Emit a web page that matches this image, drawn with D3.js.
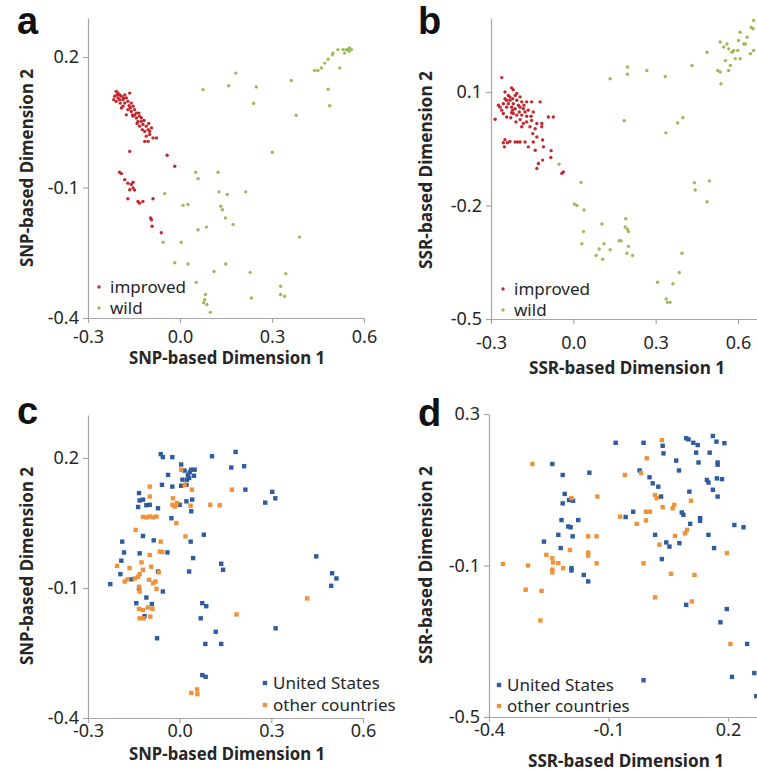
<!DOCTYPE html>
<html>
<head>
<meta charset="utf-8">
<script src="https://cdn.jsdelivr.net/npm/d3@7"></script>
<style>
  body { margin: 0; background: #fff; }
  svg { display: block; }
</style>
</head>
<body>
<div id="chart"></div>
<script>
// ---- data ----
// panel a: SNP-based MDS, improved vs wild
const snpImproved = [
  [-0.208,0.121],[-0.202,0.117],[-0.213,0.110],[-0.197,0.113],[-0.191,0.110],[-0.186,0.102],[-0.175,0.106],
  [-0.164,0.117],[-0.170,0.098],[-0.180,0.094],[-0.197,0.102],[-0.159,0.094],[-0.153,0.087],[-0.148,0.079],
  [-0.142,0.071],[-0.159,0.075],[-0.170,0.079],[-0.186,0.087],[-0.142,0.060],[-0.132,0.064],[-0.137,0.052],
  [-0.126,0.052],[-0.121,0.045],[-0.110,0.041],[-0.104,0.033],[-0.099,0.029],[-0.093,0.037],[-0.115,0.029],
  [-0.110,0.018],[-0.104,0.006],[-0.115,0.006],[-0.077,0.014],[-0.088,0.014],[-0.132,0.041],[-0.153,0.064],
  [-0.175,0.067],[-0.191,0.083],[-0.208,0.098],[-0.216,0.102],[-0.202,0.106],[-0.180,0.113],[-0.155,0.067],
  [-0.140,0.047],[-0.123,0.033],[-0.099,0.022],[-0.205,0.113],[-0.195,0.094],[-0.184,0.106],[-0.166,0.088],
  [-0.162,0.083],[-0.148,0.067],[-0.134,0.071],[-0.126,0.060],[-0.117,0.054],[-0.102,0.047],
  [-0.164,-0.017],[-0.042,-0.026],[-0.017,-0.051],[-0.197,-0.065],[-0.191,-0.068],[-0.180,-0.082],
  [-0.170,-0.090],[-0.159,-0.093],[-0.153,-0.088],[-0.153,-0.101],[-0.164,-0.105],[-0.148,-0.106],
  [-0.170,-0.126],[-0.137,-0.132],[-0.132,-0.136],[-0.121,-0.132],[-0.088,-0.126],[-0.096,-0.170],
  [-0.093,-0.174],[-0.091,-0.189],[-0.061,-0.204]
];
const snpWild = [
  [0.548,0.218],[0.553,0.221],[0.542,0.217],[0.559,0.217],[0.551,0.213],[0.537,0.209],[0.532,0.217],
  [0.515,0.217],[0.499,0.209],[0.497,0.205],[0.483,0.195],[0.472,0.186],[0.461,0.175],[0.450,0.169],
  [0.439,0.169],[0.521,0.175],[0.483,0.126],[0.488,0.088],[0.363,0.146],[0.379,0.066],[0.182,0.163],
  [0.159,0.134],[0.249,0.131],[0.240,0.093],[0.075,0.125],[0.301,-0.019],[0.051,-0.065],[0.059,-0.080],
  [0.124,-0.065],[-0.050,-0.114],[0.010,-0.141],[0.026,-0.139],[0.127,-0.110],[0.154,-0.116],[0.133,-0.143],
  [0.138,-0.151],[0.214,-0.110],[0.148,-0.170],[0.173,-0.185],[0.059,-0.197],[0.086,-0.191],[-0.055,-0.226],
  [0.004,-0.226],[0.390,-0.214],[-0.017,-0.273],[0.026,-0.276],[0.149,-0.276],[0.111,-0.293],[0.229,-0.295],
  [0.345,-0.298],[0.053,-0.318],[0.328,-0.327],[0.328,-0.346],[0.341,-0.350],[0.083,-0.346],[0.080,-0.358],
  [0.088,-0.369],[0.099,-0.387],[0.233,-0.354],[0.077,-0.365]
];
// panel b: SSR-based MDS, improved vs wild
const ssrImproved = [
  [-0.261,0.138],[-0.225,0.111],[-0.219,0.106],[-0.206,0.096],[-0.237,0.091],[-0.249,0.082],[-0.231,0.078],
  [-0.206,0.078],[-0.188,0.074],[-0.170,0.074],[-0.152,0.074],[-0.121,0.074],[-0.255,0.069],[-0.243,0.060],
  [-0.225,0.060],[-0.212,0.056],[-0.194,0.060],[-0.182,0.056],[-0.164,0.052],[-0.146,0.047],[-0.225,0.045],
  [-0.206,0.039],[-0.188,0.039],[-0.170,0.036],[-0.267,0.060],[-0.261,0.052],[-0.273,0.065],[-0.285,0.028],
  [-0.243,0.034],[-0.194,0.027],[-0.152,0.025],[-0.133,0.017],[-0.115,0.017],[-0.115,0.008],[-0.091,0.034],
  [-0.073,0.034],[-0.139,0.003],[-0.219,0.043],[-0.182,0.017],[-0.158,0.008],[-0.148,-0.010],[-0.133,-0.019],
  [-0.112,-0.027],[-0.146,-0.032],[-0.176,-0.032],[-0.194,-0.032],[-0.249,-0.026],[-0.240,-0.034],
  [-0.231,-0.031],[-0.212,-0.032],[-0.203,-0.032],[-0.255,-0.034],[-0.251,-0.045],[-0.164,-0.045],
  [-0.139,-0.054],[-0.109,-0.045],[-0.081,-0.055],[-0.082,-0.073],[-0.127,-0.089],[-0.112,-0.080],
  [-0.133,-0.102],[-0.036,-0.111],[-0.042,-0.115],[-0.243,0.078],[-0.249,0.100],[-0.231,0.087],
  [-0.219,0.069],[-0.200,0.065],[-0.180,0.065],[-0.197,0.047],[-0.228,0.032],[-0.209,0.021],[-0.170,0.021],
  [-0.154,0.036],[-0.237,0.069],[-0.221,0.082],[-0.194,0.087],[-0.212,0.091],[-0.176,0.047],[-0.221,0.052],
  [-0.255,0.043],[-0.188,0.008]
];
const ssrWild = [
  [0.657,0.289],[0.648,0.271],[0.655,0.267],[0.633,0.245],[0.608,0.258],[0.602,0.236],[0.621,0.227],
  [0.627,0.227],[0.599,0.210],[0.584,0.210],[0.566,0.214],[0.548,0.219],[0.535,0.232],[0.560,0.227],
  [0.578,0.205],[0.590,0.188],[0.608,0.188],[0.645,0.201],[0.657,0.210],[0.554,0.183],[0.572,0.170],
  [0.566,0.157],[0.535,0.153],[0.526,0.157],[0.538,0.122],[0.487,0.205],[0.432,0.170],[0.335,0.141],
  [0.268,0.157],[0.197,0.166],[0.197,0.147],[0.134,0.135],[0.185,0.024],[0.380,0.018],[0.399,0.032],
  [0.337,-0.008],[-0.052,-0.091],[0.028,-0.139],[0.441,-0.140],[0.496,-0.135],[0.444,-0.159],[0.487,-0.190],
  [0.004,-0.196],[0.013,-0.200],[0.039,-0.212],[0.104,-0.249],[0.037,-0.269],[0.191,-0.235],[0.189,-0.257],
  [0.197,-0.263],[0.201,-0.269],[0.031,-0.301],[0.167,-0.293],[0.174,-0.293],[0.201,-0.308],[0.195,-0.326],
  [0.216,-0.332],[0.112,-0.301],[0.094,-0.315],[0.107,-0.342],[0.083,-0.332],[0.134,-0.317],[0.396,-0.326],
  [0.386,-0.377],[0.363,-0.407],[0.307,-0.403],[0.338,-0.447],[0.343,-0.456],[0.353,-0.456]
];
// panel c: SNP-based MDS, United States vs other countries
const snpUS = [
  [-0.062,0.209],[-0.055,0.202],[-0.024,0.202],[0.005,0.185],[0.016,0.171],[0.027,0.161],[0.038,0.173],
  [0.049,0.173],[0.047,0.159],[0.024,0.150],[0.031,0.154],[-0.038,0.161],[-0.024,0.134],[-0.058,0.138],
  [0.005,0.136],[0.022,0.138],[0.106,0.204],[0.183,0.214],[0.169,0.178],[0.211,0.181],[0.215,0.127],
  [0.280,0.097],[0.303,0.122],[0.313,0.107],[-0.133,0.119],[-0.131,0.102],[-0.120,0.104],[-0.136,0.087],
  [-0.109,0.091],[-0.098,0.092],[-0.071,0.084],[-0.027,0.061],[0.000,0.092],[0.022,0.100],[0.041,0.104],
  [0.038,0.077],[0.079,0.023],[-0.120,0.020],[-0.188,0.007],[-0.182,-0.018],[-0.131,-0.020],[-0.085,0.010],
  [-0.040,-0.018],[0.036,0.007],[0.044,-0.031],[0.031,-0.062],[0.136,-0.044],[0.142,-0.058],[-0.191,-0.037],
  [-0.194,-0.068],[-0.158,-0.080],[-0.133,-0.101],[-0.109,-0.122],[-0.091,-0.137],[-0.115,-0.165],
  [-0.142,-0.135],[-0.055,-0.108],[-0.071,-0.062],[0.074,-0.135],[0.087,-0.142],[0.069,-0.170],
  [0.118,-0.201],[0.136,-0.229],[0.084,-0.229],[-0.074,-0.216],[0.074,-0.301],[0.085,-0.305],
  [0.447,-0.027],[0.499,-0.066],[0.513,-0.078],[0.496,-0.095],[0.314,-0.193],[-0.227,-0.091],
  [0.033,0.167],[0.009,0.150]
];
const snpOther = [
  [0.005,0.173],[0.016,0.138],[0.040,0.127],[-0.098,0.134],[-0.098,0.111],[-0.022,0.107],[-0.024,0.092],
  [-0.016,0.088],[-0.009,0.096],[0.036,0.090],[0.100,0.092],[0.131,0.091],[0.171,0.127],[-0.120,0.064],
  [-0.109,0.063],[-0.098,0.065],[-0.087,0.063],[-0.076,0.065],[-0.144,0.034],[-0.011,0.050],[0.019,0.019],
  [-0.062,0.007],[-0.098,-0.024],[-0.065,-0.016],[-0.057,-0.017],[-0.205,-0.049],[-0.164,-0.054],
  [-0.125,-0.041],[-0.120,-0.058],[-0.093,-0.051],[-0.068,-0.064],[-0.180,-0.085],[-0.147,-0.078],
  [-0.136,-0.074],[-0.131,-0.068],[-0.100,-0.081],[-0.079,-0.085],[-0.171,-0.080],[-0.076,-0.102],
  [-0.131,-0.108],[-0.133,-0.148],[-0.120,-0.151],[-0.104,-0.145],[-0.089,-0.148],[-0.131,-0.170],
  [-0.118,-0.170],[-0.096,-0.166],[0.186,-0.161],[0.417,-0.124],[0.038,-0.342],[0.057,-0.334],
  [0.058,-0.345],[-0.133,-0.097],[-0.087,-0.089]
];
// panel d: SSR-based MDS, United States vs other countries
const ssrUS = [
  [-0.082,0.224],[-0.012,0.224],[0.036,0.216],[0.038,0.196],[0.095,0.236],[0.101,0.233],[0.113,0.224],
  [0.124,0.218],[0.120,0.198],[0.162,0.242],[0.171,0.227],[0.191,0.223],[0.154,0.198],[0.126,0.172],
  [0.174,0.172],[0.174,0.166],[0.070,0.177],[0.077,0.151],[-0.022,0.151],[0.003,0.133],[0.011,0.117],
  [0.025,0.108],[0.147,0.126],[0.151,0.119],[0.172,0.130],[0.185,0.128],[0.162,0.100],[0.174,0.082],
  [0.103,0.095],[0.032,0.082],[0.084,0.040],[0.088,0.034],[0.105,0.010],[0.130,0.025],[0.130,0.018],
  [0.151,-0.019],[0.165,-0.054],[0.216,0.007],[0.239,0.001],[-0.241,0.168],[-0.215,0.139],[-0.148,0.145],
  [-0.210,0.089],[-0.199,0.073],[-0.189,0.071],[-0.215,0.064],[-0.176,0.020],[-0.218,0.020],[-0.201,0.003],
  [-0.195,0.001],[-0.226,-0.019],[-0.190,-0.023],[-0.262,-0.037],[-0.220,-0.054],[-0.193,-0.107],
  [-0.193,-0.113],[-0.162,-0.125],[-0.151,-0.142],[-0.057,0.028],[-0.038,0.042],[0.017,-0.019],
  [0.045,-0.039],[0.053,-0.050],[0.034,-0.083],[0.078,-0.041],[0.095,-0.204],[0.197,-0.215],[0.181,-0.250],
  [0.248,-0.307],[0.210,-0.394],[0.266,-0.384],[-0.012,-0.403],[0.271,-0.445]
];
const ssrOther = [
  [-0.291,0.168],[-0.059,0.139],[-0.018,0.144],[-0.004,0.183],[0.034,0.231],[-0.128,0.082],[0.017,0.086],
  [0.021,0.078],[0.107,0.071],[0.065,0.060],[0.036,0.054],[0.061,0.051],[-0.071,0.029],[-0.029,0.010],
  [-0.006,0.042],[0.004,0.042],[-0.006,0.019],[0.028,-0.045],[0.067,-0.022],[0.097,-0.006],[0.092,-0.015],
  [-0.151,-0.023],[-0.197,-0.059],[-0.130,-0.094],[-0.151,-0.066],[-0.151,-0.074],[-0.256,-0.072],
  [-0.241,-0.081],[-0.239,-0.092],[-0.226,-0.094],[-0.214,-0.107],[-0.241,-0.111],[-0.241,-0.118],
  [-0.365,-0.096],[-0.302,-0.100],[-0.012,-0.094],[0.057,-0.122],[0.116,-0.125],[0.197,-0.067],
  [-0.308,-0.164],[-0.268,-0.167],[-0.271,-0.245],[0.017,-0.184],[0.109,-0.195],[0.206,-0.307],
  [-0.193,0.078],[-0.130,-0.023]
];

const xTicksSNP = [-0.3, 0.0, 0.3, 0.6];
const yTicksA = [-0.4, -0.1, 0.2];
const yTicksB = [-0.5, -0.2, 0.1];
const xTicksD = [-0.4, -0.1, 0.2];
const yTicksD = [-0.5, -0.1, 0.3];

const colors = { improved: "#c3282f", wild: "#9bbb59", us: "#2f5c9e", other: "#f0923a" };

const W = 757, H = 771;
const svg = d3.select("#chart").append("svg").attr("width", W).attr("height", H);

// panels: scales set from where the ticks sit in the figure
const panels = [
  { letter: "a", lx: 17, ly: 34,
    x: d3.scaleLinear().domain([-0.3, 0.6]).range([88, 364]), xEnd: 364,
    y: d3.scaleLinear().domain([-0.4, 0.2]).range([318, 57]), yTop: 18,
    xt: xTicksSNP, yt: yTicksA, xPad: 7,
    xTitle: "SNP-based Dimension 1", yTitle: "SNP-based Dimension 2",
    xTitlePos: [227, 364], yTitlePos: [33, 168],
    series: [{ data: snpImproved, color: colors.improved, name: "improved" },
             { data: snpWild, color: colors.wild, name: "wild" }],
    shape: "dot", legend: [99, 287, 21] },
  { letter: "b", lx: 418, ly: 34,
    x: d3.scaleLinear().domain([-0.3, 0.6]).range([491, 738]), xEnd: 757,
    y: d3.scaleLinear().domain([-0.5, 0.1]).range([319, 92]), yTop: 18,
    xt: xTicksSNP, yt: yTicksB, xPad: 12,
    xTitle: "SSR-based Dimension 1", yTitle: "SSR-based Dimension 2",
    xTitlePos: [627, 374], yTitlePos: [432, 170],
    series: [{ data: ssrImproved, color: colors.improved, name: "improved" },
             { data: ssrWild, color: colors.wild, name: "wild" }],
    shape: "dot", legend: [503, 289, 21] },
  { letter: "c", lx: 17, ly: 424,
    x: d3.scaleLinear().domain([-0.3, 0.6]).range([88, 363]), xEnd: 363,
    y: d3.scaleLinear().domain([-0.4, 0.2]).range([718, 458]), yTop: 415,
    xt: xTicksSNP, yt: yTicksA, xPad: 1,
    xTitle: "SNP-based Dimension 1", yTitle: "SNP-based Dimension 2",
    xTitlePos: [227, 760], yTitlePos: [33, 566],
    series: [{ data: snpUS, color: colors.us, name: "United States" },
             { data: snpOther, color: colors.other, name: "other countries" }],
    shape: "square", legend: [265, 683, 22] },
  { letter: "d", lx: 418, ly: 426,
    x: d3.scaleLinear().domain([-0.4, 0.2]).range([489, 728]), xEnd: 757,
    y: d3.scaleLinear().domain([-0.5, 0.3]).range([717, 414]), yTop: 414,
    xt: xTicksD, yt: yTicksD, xPad: 1,
    xTitle: "SSR-based Dimension 1", yTitle: "SSR-based Dimension 2",
    xTitlePos: [626, 767], yTitlePos: [432, 565],
    series: [{ data: ssrUS, color: colors.us, name: "United States" },
             { data: ssrOther, color: colors.other, name: "other countries" }],
    shape: "square", legend: [499, 685, 21] }
];

const fmt = (d) => d.toFixed(1);

// stretch a scale so its axis line reaches a given pixel
const stretch = (s, px) => {
  const d0 = s.domain()[0], r0 = s.range()[0];
  s.domain([d0, s.invert(px)]).range([r0, px]);
};

const drawMark = (sel, shape, color) => {
  if (shape === "dot") {
    sel.append("circle").attr("r", 1.7).attr("fill", color);
  } else {
    sel.append("rect").attr("x", -2.2).attr("y", -2.2).attr("width", 4.4).attr("height", 4.4)
      .attr("fill", color);
  }
};

panels.forEach((p) => {
  stretch(p.x, p.xEnd);
  stretch(p.y, p.yTop);
  const g = svg.append("g");

  // axes
  const xAxis = g.append("g")
    .attr("transform", `translate(0,${p.y.range()[0]})`)
    .call(d3.axisBottom(p.x).tickValues(p.xt).tickFormat(fmt).tickSize(5).tickSizeOuter(0).tickPadding(p.xPad));
  const yAxis = g.append("g")
    .attr("transform", `translate(${p.x.range()[0]},0)`)
    .call(d3.axisLeft(p.y).tickValues(p.yt).tickFormat(fmt).tickSize(5).tickSizeOuter(0).tickPadding(4));
  [xAxis, yAxis].forEach((a) => {
    a.selectAll("path, line").attr("stroke", "#a6a6a6").attr("stroke-width", 1.2);
    a.selectAll("text").attr("fill", "#262626")
      .style("font-family", "'Noto Sans', 'Open Sans', sans-serif").style("font-size", "18px");
  });

  // points
  p.series.forEach((s) => {
    const pts = g.append("g").selectAll("g").data(s.data).join("g")
      .attr("transform", (d) => `translate(${p.x(d[0])},${p.y(d[1])})`);
    drawMark(pts, p.shape, s.color);
  });

  // legend
  const lg = g.append("g");
  p.series.forEach((s, i) => {
    const row = lg.append("g").attr("transform", `translate(${p.legend[0]},${p.legend[1] + i * p.legend[2]})`);
    drawMark(row, p.shape, s.color);
    row.append("text").attr("x", p.shape === "dot" ? 11 : 8).attr("dy", "0.35em")
      .attr("fill", "#262626")
      .style("font-family", "'Noto Sans', 'Open Sans', sans-serif").style("font-size", "17px")
      .text(s.name);
  });

  // titles
  g.append("text").attr("x", p.xTitlePos[0]).attr("y", p.xTitlePos[1])
    .attr("text-anchor", "middle").attr("fill", "#262626")
    .attr("textLength", 196).attr("lengthAdjust", "spacingAndGlyphs")
    .style("font-family", "'Noto Sans', sans-serif").style("font-weight", "bold").style("font-size", "17px")
    .text(p.xTitle);
  g.append("text")
    .attr("transform", `translate(${p.yTitlePos[0]},${p.yTitlePos[1]}) rotate(-90)`)
    .attr("text-anchor", "middle").attr("fill", "#262626")
    .attr("textLength", 198).attr("lengthAdjust", "spacingAndGlyphs")
    .style("font-family", "'Noto Sans', sans-serif").style("font-weight", "bold").style("font-size", "18px")
    .text(p.yTitle);

  // panel letter
  g.append("text").attr("x", p.lx).attr("y", p.ly).attr("fill", "#111")
    .style("font-family", "'Liberation Sans', Arial, sans-serif").style("font-weight", "bold")
    .style("font-size", "38px")
    .text(p.letter);
});
</script>
</body>
</html>
